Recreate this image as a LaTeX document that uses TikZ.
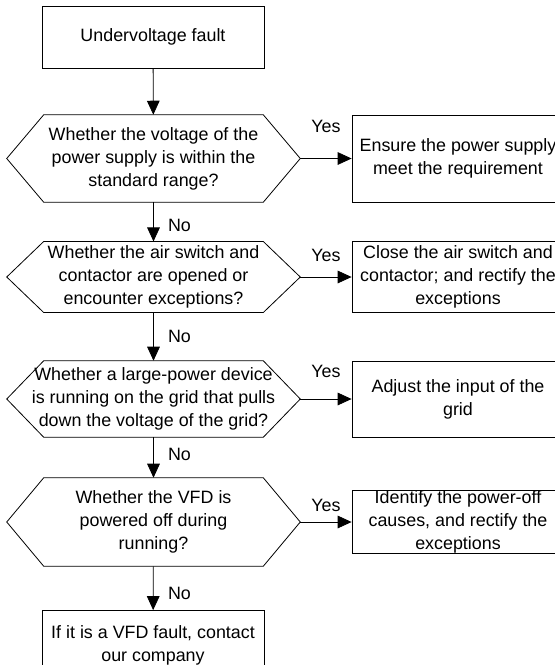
\documentclass[tikz,border=0pt]{standalone}
\usepackage{fontspec}
\setmainfont{Liberation Sans}
\usepackage{tikz}
\usetikzlibrary{calc,arrows.meta}
\tikzset{
  ar/.style={-{Triangle[length=10.5pt,width=9.5pt]},line width=0.6pt},
  box/.style={draw,line width=0.6pt,align=center,inner sep=0pt,minimum width=166.5pt},
  act/.style={draw,line width=0.6pt,align=center,inner sep=0pt,minimum width=159pt},
  ques/.style={align=center,inner sep=0pt,minimum width=219.75pt},
  lbl/.style={inner sep=1pt}
}

\begin{document}
\begin{tikzpicture}[x=0.75pt,y=-0.75pt,font=\fontsize{13.4pt}{17.3pt}\selectfont]
\useasboundingbox (0,0) rectangle (555,665);
\node[box,minimum height=46.5pt] (start) at (153,37) {Undervoltage fault};
\node[ques,minimum height=65.25pt] (q1) at (153.5,158.5) {Whether the voltage of the\\power supply is within the\\standard range?};
\node[act,minimum height=65.25pt] (a1) at (458,158.5) {Ensure the power supply\\meet the requirement};
\node[ques,minimum height=52.9pt] (q2) at (153.5,277) {Whether the air switch and\\contactor are opened or\\encounter exceptions?};
\node[act,minimum height=52.9pt] (a2) at (458,277) {Close the air switch and\\contactor; and rectify the\\exceptions};
\node[ques,minimum height=57pt] (q3) at (153.5,399) {Whether a large-power device\\is running on the grid that pulls\\down the voltage of the grid?};
\node[act,minimum height=57pt] (a3) at (458,399) {Adjust the input of the\\grid};
\node[ques,minimum height=66pt] (q4) at (153.5,522) {Whether the VFD is\\powered off during\\running?};
\node[act,minimum height=47.6pt] (a4) at (458,522) {Identify the power-off\\causes, and rectify the\\exceptions};
\node[box,minimum height=51.75pt] (last) at (153,645) {If it is a VFD fault, contact\\our company};
% decision outlines
\foreach \q in {q1,q2,q3,q4}
  \draw[line width=0.6pt] (\q.west) -- ($(\q.north west)+(37,0)$) -- ($(\q.north east)+(-37,0)$) -- (\q.east)
    -- ($(\q.south east)+(-37,0)$) -- ($(\q.south west)+(37,0)$) -- cycle;
\draw[ar] (start) -- (q1);
\draw[ar] (q1) -- (q2);
\draw[ar] (q2) -- (q3);
\draw[ar] (q3) -- (q4);
\draw[ar] (q4) -- (last);
\draw[ar] (q1) -- (a1);
\draw[ar] (q2) -- (a2);
\draw[ar] (q3) -- (a3);
\draw[ar] (q4) -- (a4);
\node[lbl] (yes1) at (326,126) {Yes};
\node[lbl] (yes2) at (326,255.5) {Yes};
\node[lbl] (yes3) at (326,371.6) {Yes};
\node[lbl] (yes4) at (326,505.5) {Yes};
\node[lbl] (no1) at (179.5,225) {No};
\node[lbl] (no2) at (179.5,336) {No};
\node[lbl] (no3) at (179.5,454) {No};
\node[lbl] (no4) at (179.5,593) {No};
\end{tikzpicture}
\end{document}
